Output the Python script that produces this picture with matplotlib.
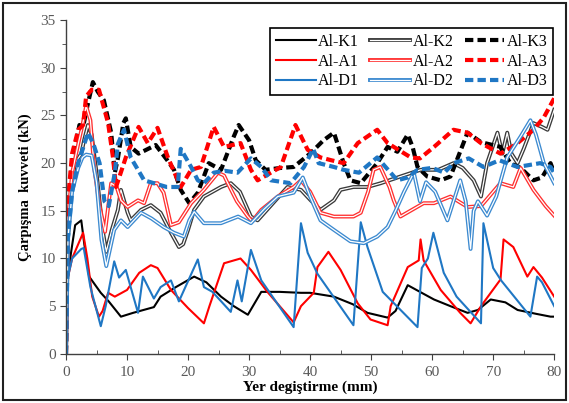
import numpy as np
import matplotlib
matplotlib.use("Agg")
import matplotlib.pyplot as plt
from matplotlib.patches import Rectangle
from matplotlib.legend_handler import HandlerTuple

plt.rcParams['font.family'] = ['Liberation Serif', 'DejaVu Serif']

# (displacement mm, force kN)
K1 = np.array([[0, 0], [0.3, 8], [0.8, 10.5], [1.5, 13.5], [2.5, 14], [3.0, 11.5], [3.8, 8.1],
               [5.7, 6.4], [7, 5.5], [9, 3.9], [11, 4.3], [14.4, 4.9], [15.5, 6], [18, 7],
               [21, 8.1], [23, 7.5], [25.4, 6], [27.5, 5], [29.8, 4.1], [32, 6.5], [35, 6.5],
               [38.5, 6.4], [40, 6.4], [43.9, 6], [47, 5.2], [49.4, 4.3], [52.7, 3.8], [54, 4.5],
               [56, 7.2], [58, 6.5], [60.3, 5.7], [63, 5], [65.8, 4.3], [67.5, 4.6], [69.6, 5.7],
               [72, 5.4], [74, 4.6], [77, 4.2], [79.4, 3.9], [80, 3.9]])
K2 = np.array([[0, 0], [0.3, 12], [1, 18], [1.5, 20], [2.5, 21], [3, 22.5], [3.6, 24], [4.2, 23],
               [5, 19], [6, 13], [6.6, 10.7], [7.5, 13], [8.5, 15.1], [9, 17.2], [10.1, 14.8],
               [10.6, 14], [12.3, 15.1], [13.9, 15.6], [15.5, 14.8], [17.2, 12.7], [18.5, 11.2],
               [19.2, 11.5], [20, 13], [21, 15.1], [22.6, 16.5], [25.4, 17.5], [27, 17.9],
               [28.5, 17], [30.3, 14.4], [31.4, 14], [33.5, 15.5], [36.3, 17.5], [38.5, 17.2],
               [40.1, 16.1], [41.7, 15.1], [43.9, 16.1], [45, 17.2], [47.1, 17.5], [49.4, 17.5],
               [51.6, 17.9], [54.8, 18.6], [58.1, 19.3], [61, 19.3], [63.5, 20], [65, 19.5],
               [66.8, 18.2], [68, 16.5], [69, 20], [70.7, 23.2], [71.5, 21], [72.3, 23.2],
               [73, 21], [74, 20], [75, 21.5], [76.6, 24.2], [78, 23.8], [78.9, 23.5], [80, 25.6]])
K3 = np.array([[0, 0], [0.3, 15], [1, 20], [2.2, 24], [2.8, 23.8], [3.5, 26], [4.4, 28.5],
               [5.2, 27.5], [6.2, 26.6], [7.4, 23.2], [8.0, 19], [8.5, 20.5], [9.4, 24.2],
               [9.8, 24.7], [10.6, 21.7], [11.9, 21], [14.7, 21.9], [16.6, 20.3], [17.7, 19.3],
               [18.8, 17.2], [20.2, 15.8], [21.6, 16.9], [23.4, 20], [25.4, 19.3], [27.5, 22.8],
               [28.3, 24], [30, 22.4], [31.1, 20.3], [32.7, 19.3], [35.2, 19.5], [37.3, 19.6],
               [40, 21], [42.2, 22.4], [43.9, 23.2], [45.5, 20], [46.6, 18.2], [48.3, 17.9],
               [51, 20], [52.7, 21.7], [54.3, 21.2], [56, 23], [56.8, 21.7], [57.6, 19.6],
               [59.2, 18.6], [61.4, 18.2], [63, 18.6], [65.8, 23.2], [68, 22.2], [71.2, 21.7],
               [72.8, 20], [74.5, 19.5], [76.6, 18.2], [78, 18.5], [79.4, 20], [80, 19]])
A1 = np.array([[0, 0], [0.3, 8], [1, 10], [2, 11.5], [2.8, 12.7], [3.5, 10], [4.3, 6], [5.4, 3.9],
               [6, 4.5], [6.9, 6.4], [8, 6], [10, 6.7], [12, 8.5], [13.9, 9.3], [15, 9],
               [17.2, 6.7], [20, 4.8], [22.6, 3.2], [23.5, 5], [25.9, 9.5], [28.6, 10],
               [30.3, 8.8], [33, 6.5], [37.3, 3.3], [38.5, 5], [40.6, 6.4], [41.2, 9.1],
               [43, 10.7], [45, 8.8], [47.8, 5.3], [49.9, 3.6], [52.7, 3], [53.2, 5], [56, 9.1],
               [57.8, 9.8], [58.1, 12], [58.6, 9.8], [61.4, 6.7], [64.6, 4.3], [66.3, 3.2],
               [68, 5], [71.2, 7.8], [71.7, 12], [73.3, 11.2], [75.6, 8.1], [76.6, 9.1],
               [78, 8], [80, 6]])
A2 = np.array([[0, 0], [0.3, 14], [1, 19], [2, 22], [2.7, 24], [3.3, 26], [4.0, 24.5], [4.6, 19.6],
               [5.5, 15.5], [6.4, 12.8], [7.4, 17.9], [8.3, 17.5], [9, 16.1], [10.1, 15.4],
               [11.8, 16.1], [12.8, 15.8], [13.9, 17.9], [15, 17.9], [16, 16.9], [17.2, 13.5],
               [18.5, 13.8], [20.5, 15.8], [22.6, 17.2], [24.9, 19], [25.9, 18.7], [26.5, 17.9],
               [28, 16], [29.8, 14.4], [30.5, 13.9], [32, 15.1], [34.7, 16.5], [37.3, 17.5],
               [38.5, 18.2], [40, 17], [41.7, 14.8], [43.9, 14.4], [47.1, 14.4], [48.3, 14.8],
               [49.5, 17], [50.4, 19.3], [51.5, 19.6], [53, 17.5], [53.7, 16.1], [54.8, 14.4],
               [58.6, 15.8], [60.3, 15.8], [63, 16.5], [65.8, 15.4], [68, 15.5], [71.2, 17.9],
               [73.3, 17.5], [74.5, 19.5], [76.6, 17.2], [78.6, 15.5], [80, 14.5]])
A3 = np.array([[0, 0], [0.3, 16], [1, 21], [2, 23.5], [2.8, 24], [3.3, 27], [4.2, 27.7],
               [5.4, 27.7], [6.9, 24.2], [7.7, 20.6], [8.2, 17.5], [9.8, 20.6], [11.9, 23.8],
               [13.4, 22.1], [15, 23.7], [16.7, 20.6], [18.8, 17.5], [20.5, 19.3], [22.1, 19.6],
               [24.2, 23.8], [25.9, 21.7], [28.6, 22.1], [30.3, 19.3], [31.4, 18.2], [33, 18.8],
               [35.2, 19.6], [37.6, 24], [39.6, 21.4], [41.7, 20.6], [43.5, 20.3], [45.5, 20],
               [47.8, 22.1], [51, 23.5], [52.7, 22.1], [56.5, 20.6], [58, 20.5], [60.3, 21.7],
               [63.5, 23.5], [65.8, 23.2], [68, 22.1], [71.2, 21], [73.8, 22], [76.6, 23.5],
               [78.3, 24.8], [80, 26.8]])
D1 = np.array([[0, 0], [0.3, 8], [1, 10], [2.5, 11], [2.9, 11.1], [4, 7], [5.7, 2.9], [6.5, 5],
               [7.9, 9.7], [8.7, 8], [9.8, 8.8], [11.8, 4.3], [12.6, 8.1], [14.4, 5.8], [15.5, 7],
               [17.2, 7.7], [18.5, 5.5], [21.6, 9.9], [22.6, 7], [24, 6.5], [27, 4.4], [28.1, 7.7],
               [28.8, 5.5], [30.3, 10.9], [32, 7.7], [37.3, 2.8], [38.5, 13.7], [39.6, 10.6],
               [41.2, 8.4], [47.1, 3], [48.3, 13.8], [49.4, 11.2], [51.9, 6.5], [57.6, 2.8],
               [58.3, 9], [59.3, 10], [60.2, 12.7], [61.9, 8.5], [64, 6], [68, 3.2], [68.4, 13.7],
               [70, 9], [71.3, 7.7], [76.1, 3.9], [77.2, 8.1], [78, 7.5], [80, 5]])
D2 = np.array([[0, 0], [0.3, 12], [1, 17], [2, 19.5], [2.7, 20.6], [3.3, 20.9], [4.2, 20.8],
               [5, 18], [5.8, 12], [6.6, 9.2], [7.9, 13], [9, 14], [10.1, 13.3], [12.3, 14.8],
               [14, 14.2], [16, 13.3], [17.7, 12.7], [19.3, 12.3], [20.2, 14], [21, 14.9],
               [22.6, 13.7], [25.4, 13.7], [28.2, 14.4], [30.3, 13.7], [32.5, 15.2], [34.7, 16.5],
               [37.3, 16.9], [38.8, 18.5], [40, 16.5], [41.7, 14], [43.9, 13], [46.6, 11.8],
               [48.8, 11.6], [51, 12.3], [52.7, 13.3], [54, 15], [55.4, 17], [57, 19], [58, 16],
               [59, 18], [60.5, 17], [62.5, 14], [64.6, 18.2], [65.5, 16], [66.3, 11], [66.8, 15],
               [67.5, 16], [69, 14.5], [70.5, 16.5], [72.3, 20.6], [74.5, 22.8], [76.1, 24.5],
               [77, 23], [78.3, 20], [80, 17.9]])
D3 = np.array([[0, 0], [0.3, 12], [1, 17], [2, 20], [3, 22], [3.6, 23.2], [4.5, 22], [5.5, 20],
               [6.3, 16], [7, 15.5], [8, 19], [8.5, 22], [9.5, 23.5], [10.6, 20.6], [11.8, 19.3],
               [12.8, 18.2], [14.4, 17.9], [16.5, 17.5], [18.3, 17.5], [18.8, 21.5], [20.5, 19.6],
               [21.6, 18.2], [22.6, 17.9], [24.2, 19], [26, 19.2], [28.1, 19], [30.3, 20.5],
               [32, 19.6], [33.6, 18.2], [36.8, 17.9], [39, 19.6], [40.5, 21.5], [41.4, 20],
               [43.9, 19.6], [45.5, 19.3], [48, 19], [51, 20.6], [52.5, 19.5], [54.3, 18.2],
               [56, 18.5], [57.6, 19.3], [60, 19.5], [62, 19], [63.5, 20], [66, 20.5],
               [68.4, 19.6], [71, 20.3], [74, 19.6], [77.7, 20], [79.4, 19.6], [80, 19]])

names = ['Al-K1', 'Al-K2', 'Al-K3', 'Al-A1', 'Al-A2', 'Al-A3', 'Al-D1', 'Al-D2', 'Al-D3']
series = [K1, K2, K3, A1, A2, A3, D1, D2, D3]

BLACK, RED, BLUE = '#000000', '#FF0000', '#1F77C4'
colors = [BLACK, '#3a3a3a', BLACK, RED, '#FF3030', RED, BLUE, '#3C8AD0', BLUE]
kinds = ['solid', 'double', 'dash'] * 3

fig = plt.figure(figsize=(5.69, 4.03), dpi=100)
ax = fig.add_axes([0.116, 0.122, 0.858, 0.828])

handles = {}
for name, data, c, kind in zip(names, series, colors, kinds):
    x, y = data[:, 0], data[:, 1]
    if kind == 'solid':
        h, = ax.plot(x, y, color=c, lw=1.5)
    elif kind == 'double':
        h1, = ax.plot(x, y, color=c, lw=2.8)
        h2, = ax.plot(x, y, color='white', lw=0.9)
        h = (h1, h2)
    else:
        h, = ax.plot(x, y, color=c, lw=3.0, linestyle=(0, (2.0, 1.0)))
    handles[name] = h

ax.set_xlim(0, 80)
ax.set_ylim(0, 35)
ax.set_xticks(np.arange(0, 81, 10))
ax.set_xticks(np.arange(0, 81, 5), minor=True)
ax.set_yticks(np.arange(0, 36, 5))
ax.set_yticks(np.arange(0, 36, 2.5), minor=True)
for s in ['top', 'right']:
    ax.spines[s].set_visible(False)
for s in ['left', 'bottom']:
    ax.spines[s].set_color('#404040')
    ax.spines[s].set_linewidth(1.0)
ax.tick_params(axis='both', which='major', labelsize=11, labelcolor='#595959',
               color='#404040', direction='out', length=4)
ax.tick_params(axis='y', which='minor', direction='out', length=3, color='#404040')
ax.tick_params(axis='x', which='minor', direction='in', length=3, color='#404040')
ax.tick_params(axis='x', pad=5)

ax.set_xlabel('Yer degiştirme (mm)', fontsize=11, fontweight='bold', labelpad=1)
ax.set_ylabel('Çarpışma  kuvveti (kN)', fontsize=10.5, fontweight='bold', labelpad=6)

order = ['Al-K1', 'Al-A1', 'Al-D1', 'Al-K2', 'Al-A2', 'Al-D2', 'Al-K3', 'Al-A3', 'Al-D3']
leg = ax.legend([handles[n] for n in order], order, ncol=3, loc='upper right',
                bbox_to_anchor=(0.998, 0.975), borderaxespad=0, fontsize=11.5,
                handler_map={tuple: HandlerTuple(ndivide=1, pad=0)},
                handlelength=2.5, handletextpad=0.15, columnspacing=0.7,
                labelspacing=0.22, borderpad=0.35, fancybox=False, framealpha=1,
                edgecolor='black')
leg.get_frame().set_linewidth(1.2)

fig.patches.append(Rectangle((0.006, 0.008), 0.988, 0.985, transform=fig.transFigure,
                             fill=False, edgecolor='#202020', lw=1.5))

fig.savefig('out.png', dpi=100)
